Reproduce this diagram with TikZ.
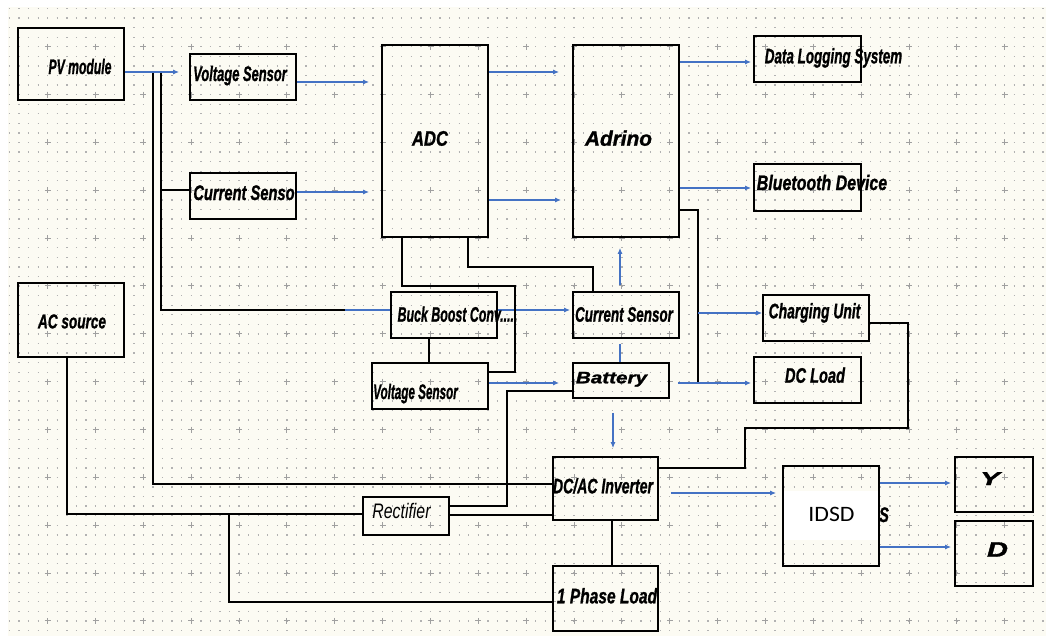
\documentclass[tikz,border=0pt]{standalone}
\usepackage{fontspec}
\setmainfont{Liberation Sans}[BoldItalicFeatures={FakeBold=1.3}]
\newfontfamily\calib{Carlito}
\usepackage{graphicx}
\usetikzlibrary{arrows.meta}
\definecolor{bl}{RGB}{68,114,196}
\definecolor{cream}{RGB}{252,251,243}
\definecolor{dotc}{RGB}{178,178,178}
\newcommand{\lbl}[3]{{\fontsize{#2}{#2}\selectfont\bfseries\itshape\scalebox{#1}[1]{#3}}}
\begin{document}
\begin{tikzpicture}[x=1pt,y=-1pt,
  box/.style={draw=black, line width=1.7pt, inner sep=0pt, rectangle},
  txt/.style={anchor=base, inner sep=0pt},
  blu/.style={draw=bl, line width=1.6pt},
  arr/.style={blu, -{Latex[length=6pt,width=5pt]}},
  blk/.style={draw=black, line width=1.6pt}]
\useasboundingbox (0,0) rectangle (1052,640);
\fill[white] (0,0) rectangle (1052,640);
\fill[cream] (8,7) rectangle (1046,636);
% dot grid
\foreach \k in {0,...,65}{
  \draw[dotc, line width=1.3pt, dash pattern=on 1.3pt off 8.27pt] (8.8,8.5+9.57*\k) -- (1046,8.5+9.57*\k);
}
\foreach \j in {0,...,12}{
  \draw[dotc!90!black, line width=1pt, dash pattern=on 6pt off 41.85pt] (44.7,46.7+47.85*\j) -- (1046,46.7+47.85*\j);
}
\foreach \i in {0,...,20}{
  \draw[dotc!90!black, line width=1pt, dash pattern=on 6pt off 41.85pt] (47.7+47.85*\i,43.7) -- (47.7+47.85*\i,636);
}
% boxes
\node[box, minimum width=106pt, minimum height=72pt] (PV) at (71,64) {};
\node[box, minimum width=106pt, minimum height=46pt] (VS1) at (243,77) {};
\node[box, minimum width=106pt, minimum height=46pt] (CS1) at (243,196) {};
\node[box, minimum width=106pt, minimum height=192pt] (ADC) at (435,141) {};
\node[box, minimum width=106pt, minimum height=192pt] (ADR) at (626,141) {};
\node[box, minimum width=107pt, minimum height=46pt] (DLS) at (807.5,59) {};
\node[box, minimum width=107pt, minimum height=47pt] (BT) at (807.5,187.5) {};
\node[box, minimum width=106pt, minimum height=46pt] (BB) at (444,315) {};
\node[box, minimum width=106pt, minimum height=46pt] (CS2) at (626,315) {};
\node[box, minimum width=116pt, minimum height=46pt] (VS2) at (430,386) {};
\node[box, minimum width=96pt, minimum height=35pt] (BAT) at (621,380.5) {};
\node[box, minimum width=106pt, minimum height=46pt] (CU) at (816,318) {};
\node[box, minimum width=107pt, minimum height=46pt] (DCL) at (807.5,380) {};
\node[box, minimum width=106pt, minimum height=74pt] (AC) at (71,320) {};
\node[box, minimum width=105pt, minimum height=63pt] (INV) at (605.5,488.5) {};
\node[box, minimum width=86pt, minimum height=38pt] (REC) at (406,516) {};
\node[box, minimum width=105pt, minimum height=65pt] (PL) at (605.5,598.5) {};
\node[txt] (St) at (884,522) {\lbl{0.7}{21pt}{S}};
\fill[white] (784,491) rectangle (878,540);
\node[box, minimum width=96pt, minimum height=100pt] (IDSD) at (831,516) {};
\node[box, minimum width=78pt, minimum height=55pt] (Y) at (994,484.5) {};
\node[box, minimum width=78pt, minimum height=65pt] (D) at (994,553.5) {};
% junctions
\coordinate (j1) at (153,72);
\coordinate (j2) at (161,72);
\coordinate (j3) at (161,190);
\coordinate (kb) at (345,310);
\coordinate (r1) at (698,210);
\coordinate (r2) at (698,383);
\coordinate (r3) at (698,313);
\coordinate (a1) at (402,286);
\coordinate (a2) at (515,286);
\coordinate (a3) at (515,372);
\coordinate (a4) at (468,267);
\coordinate (a5) at (593,267);
\coordinate (b1) at (507,391);
\coordinate (b2) at (507,506);
\coordinate (ja) at (229,514);
\coordinate (c1) at (908,323);
\coordinate (c2) at (908,428);
\coordinate (c3) at (745,428);
\coordinate (c4) at (745,468);
% connectors
\draw[blk] (j1) |- (INV.west |- 0,484);
\draw[blk] (j2) |- (kb);
\draw[blu] (kb) -- (BB.west |- 0,310);
\draw[blk] (j3) -- (CS1.west |- 0,190);
\draw[arr, shorten >=10pt] (PV.east |- 0,72) -- (VS1.west |- 0,72);
\draw[arr, shorten >=2pt] (BB.east |- 0,310) -- (CS2.west |- 0,310);
\draw[arr, shorten >=12pt] (VS1.east |- 0,82) -- (ADC.west |- 0,82);
\draw[arr, shorten >=12pt] (CS1.east |- 0,192) -- (ADC.west |- 0,192);
\draw[arr, shorten >=13pt] (ADC.east |- 0,72) -- (ADR.west |- 0,72);
\draw[arr, shorten >=11pt] (ADC.east |- 0,200) -- (ADR.west |- 0,200);
\draw[arr, shorten >=2pt] (ADR.east |- 0,62) -- (DLS.west |- 0,62);
\draw[arr, shorten >=2pt] (ADR.east |- 0,188) -- (BT.west |- 0,188);
\draw[blk] (ADR.east |- 0,210) -- (r1) -- (r2);
\draw[arr] (r3) -- (CU.west |- 0,313);
\draw[arr, shorten <=8pt, shorten >=2pt] (BAT.east |- 0,383) -- (DCL.west |- 0,383);
\draw[blk] (ADC.south -| 402,0) -- (a1) -- (a2) -- (a3) -- (VS2.east |- 0,372);
\draw[blk] (ADC.south -| 468,0) -- (a4) -- (a5) -- (CS2.north -| 593,0);
\draw[blk] (BB.south -| 429,0) -- (VS2.north -| 429,0);
\draw[arr, shorten <=6pt, shorten >=10pt] (CS2.north -| 620,0) -- (ADR.south -| 620,0);
\draw[blu, shorten <=5pt] (CS2.south -| 620,0) -- (BAT.north -| 620,0);
\draw[arr, shorten >=13pt] (VS2.east |- 0,383) -- (BAT.west |- 0,383);
\draw[arr, shorten <=14pt, shorten >=8pt] (BAT.south -| 613,0) -- (INV.north -| 613,0);
\draw[blk] (BAT.west |- 0,391) -- (b1) -- (b2) -- (REC.east |- 0,506);
\draw[blk] (REC.east |- 0,515) -- (INV.west |- 0,515);
\draw[blk] (AC.south -| 67,0) |- (REC.west |- 0,514);
\draw[blk] (ja) |- (PL.west |- 0,602);
\draw[blk] (INV.south -| 612,0) -- (PL.north -| 612,0);
\draw[blk] (CU.east |- 0,323) -- (c1) -- (c2) -- (c3) -- (c4) -- (INV.east |- 0,468);
\draw[arr, shorten <=12pt, shorten >=6pt] (INV.east |- 0,493) -- (IDSD.west |- 0,493);
\draw[arr, shorten >=3pt] (IDSD.east |- 0,483) -- (Y.west |- 0,483);
\draw[arr, shorten >=3pt] (IDSD.east |- 0,547) -- (D.west |- 0,547);
% labels
\node[txt] (PVt) at (80,74) {\lbl{0.58}{21pt}{PV module}};
\node[txt] (VS1t) at (240,81) {\lbl{0.615}{21pt}{Voltage Sensor}};
\node[txt] (CS1t) at (244,200) {\lbl{0.7}{21pt}{Current Senso}};
\node[txt] (ADCt) at (430,145.7) {\lbl{0.79}{21pt}{ADC}};
\node[txt] (ADRt) at (618.5,145.7) {\lbl{0.99}{21pt}{Adrino}};
\node[txt] (DLSt) at (833.5,63.3) {\lbl{0.64}{21pt}{Data Logging System}};
\node[txt] (BTt) at (822,190) {\lbl{0.76}{21pt}{Bluetooth Device}};
\node[txt] (BBt) at (457.5,321.7) {\lbl{0.59}{21pt}{Buck Boost Conv.....}};
\node[txt] (CS2t) at (624,321.7) {\lbl{0.64}{21pt}{Current Sensor}};
\node[txt] (VS2t) at (415.5,399) {\lbl{0.556}{21pt}{Voltage Sensor}};
\node[txt] (BATt) at (611.5,383.3) {\lbl{1.25}{16.5pt}{Battery}};
\node[txt] (CUt) at (814.5,318.3) {\lbl{0.66}{21pt}{Charging Unit}};
\node[txt] (DCLt) at (815,382.7) {\lbl{0.695}{21pt}{DC Load}};
\node[txt] (ACt) at (72,328.3) {\lbl{0.68}{20pt}{AC source}};
\node[txt] (INVt) at (603,493.3) {\lbl{0.67}{21pt}{DC/AC Inverter}};
\node[txt] (RECt) at (401.5,518.3) {{\fontsize{21pt}{21pt}\selectfont\itshape\scalebox{0.755}[1]{Rectifier}}};
\node[txt] (PLt) at (607,603.3) {\lbl{0.74}{21pt}{1 Phase Load}};
\node[txt] (Yt) at (990,485) {\lbl{1.6}{18.6pt}{Y}};
\node[txt] (Dt) at (997.5,556.7) {\lbl{1.38}{21pt}{D}};
\node[txt] (IDSDt) at (831.5,521.7) {{\calib\fontsize{22pt}{22pt}\selectfont\scalebox{1.08}[1]{IDSD}}};
\end{tikzpicture}
\end{document}
